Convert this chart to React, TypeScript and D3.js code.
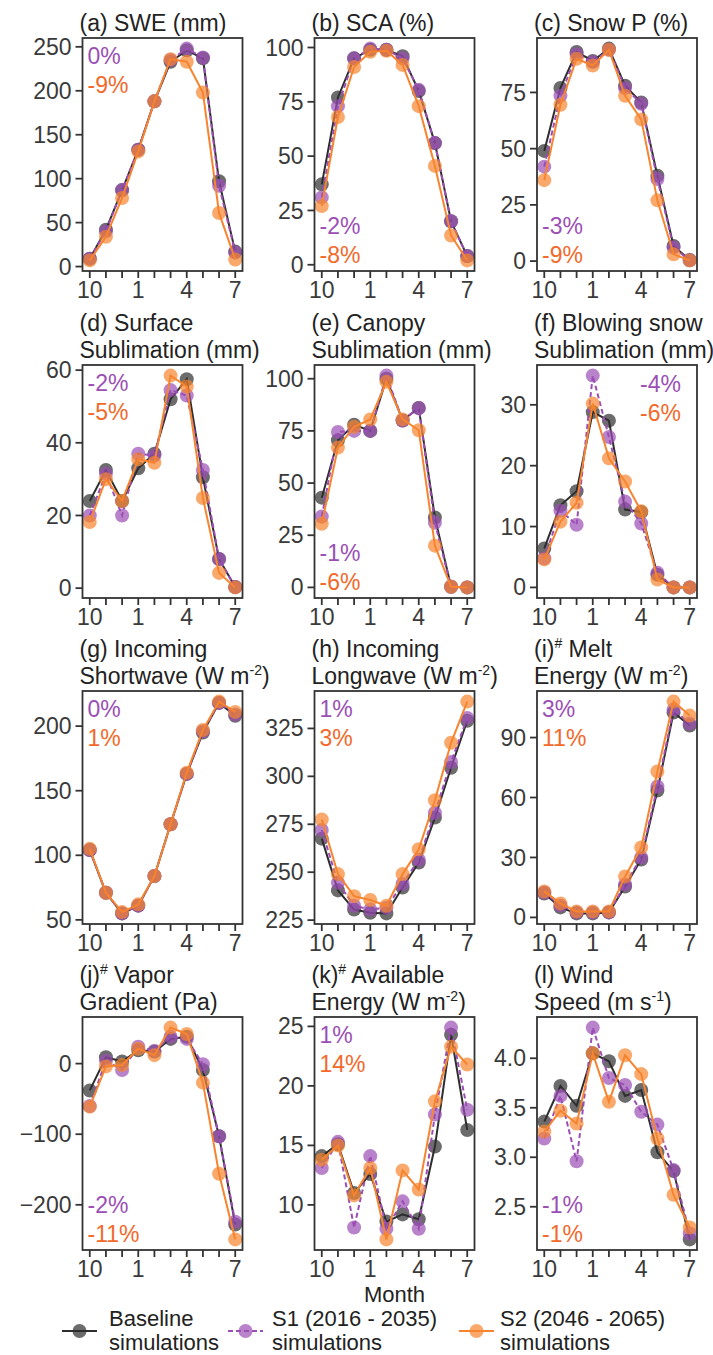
import React from 'react';
import * as d3 from 'd3';

// months Oct..Jul
const months = [10, 11, 12, 1, 2, 3, 4, 5, 6, 7];
const monthLabels = ['10', '', '', '1', '', '', '4', '', '', '7'];

// (a) SWE (mm)
const sweBase = [9, 42, 87, 133, 188, 233, 246, 237, 97, 17];
const sweS1 = [9, 40, 87, 133, 188, 235, 248, 238, 92, 16];
const sweS2 = [7, 34, 78, 131, 188, 236, 233, 198, 61, 8];
// (b) SCA (%)
const scaBase = [37, 77, 95, 99, 99, 96, 80, 56, 20, 4];
const scaS1 = [31, 73, 95, 99.5, 99, 95, 80.5, 56, 20, 4];
const scaS2 = [27, 68, 91, 98, 98.5, 92, 73, 45.5, 13.5, 2];
// (c) Snow P (%)
const snowBase = [49, 77, 93, 89, 94.5, 78, 70.5, 38, 6.7, 0.5];
const snowS1 = [42, 73.5, 92, 88.5, 94, 77, 70, 36.5, 6, 0.4];
const snowS2 = [36, 69.5, 90, 87, 94, 73.5, 63, 27, 3, 0.3];
// (d) Surface sublimation (mm)
const surfBase = [24, 32.5, 24, 33, 37, 52, 57.5, 30.5, 8, 0.3];
const surfS1 = [20, 31.5, 20, 37, 36.5, 54.5, 53, 32.5, 8, 0.3];
const surfS2 = [18.2, 30, 24, 35.5, 34.5, 58.5, 55.5, 24.8, 4.2, 0.2];
// (e) Canopy sublimation (mm)
const canBase = [43, 70.5, 78, 75, 100, 80, 86, 33.5, 0.3, 0];
const canS1 = [34, 74.5, 75, 75, 101.5, 80, 86, 31, 0.3, 0];
const canS2 = [30.5, 67, 77, 80.5, 98.5, 80.5, 75.3, 20, 0.3, 0];
// (f) Blowing snow sublimation (mm)
const blowBase = [6.4, 13.5, 15.8, 28.8, 27.4, 12.8, 12.4, 2.1, 0, 0];
const blowS1 = [4.8, 12.6, 10.3, 34.8, 24.7, 14.1, 10.5, 2.4, 0, 0];
const blowS2 = [4.6, 10.8, 13.9, 30.2, 21.2, 17.4, 12.5, 1.3, 0, 0];
// (g) Incoming shortwave (W m-2)
const swBase = [104, 71, 55, 61, 84, 124, 163, 195, 218, 208];
const swS1 = [104, 71, 55, 61, 84, 124, 163, 196, 218, 209];
const swS2 = [105, 71, 56, 62, 84, 124, 164, 197, 219, 211];
// (h) Incoming longwave (W m-2)
const lwBase = [267.5, 240.5, 230.5, 228.8, 228.5, 242, 255, 278.5, 304.5, 329];
const lwS1 = [272, 244.5, 232.5, 230.5, 231.5, 244, 256.5, 281, 307.5, 330.5];
const lwS2 = [277.5, 249, 237.5, 235.5, 232.5, 249, 262, 287.5, 317.5, 339];
// (i) Melt energy (W m-2)
const meltBase = [12, 5, 2, 2, 2.5, 15.5, 29, 63.5, 102.5, 96];
const meltS1 = [12.5, 6, 2.5, 2.5, 2.5, 16.5, 30, 65.5, 104, 97];
const meltS2 = [13, 7, 3, 3, 3, 20.5, 35, 73, 108, 101];
// (j) Vapor gradient (Pa)
const vapBase = [-38, 9, 3, 19, 17, 35, 38, -9, -103, -228];
const vapS1 = [-60, 4, -9, 24, 18, 38, 35, -1, -103, -224];
const vapS2 = [-61, -4, -2, 21, 12, 51, 42, -27, -156, -249];
// (k) Available energy (W m-2)
const avBase = [14.1, 15.1, 11.0, 12.6, 8.6, 9.2, 8.8, 14.9, 24.3, 16.3];
const avS1 = [13.1, 15.3, 8.1, 14.1, 8.0, 10.3, 8.0, 17.6, 24.9, 18.0];
const avS2 = [13.8, 15.0, 10.8, 13.1, 7.1, 12.9, 11.3, 18.7, 23.3, 21.8];
// (l) Wind speed (m s-1)
const windBase = [3.36, 3.72, 3.52, 4.05, 3.97, 3.62, 3.68, 3.05, 2.86, 2.17];
const windS1 = [3.19, 3.62, 2.96, 4.31, 3.8, 3.73, 3.46, 3.33, 2.87, 2.23];
const windS2 = [3.26, 3.47, 3.34, 4.05, 3.56, 4.03, 3.84, 3.19, 2.62, 2.29];

const series = [
  { name: ['Baseline', 'simulations'], color: '#2e2e2e', dash: null },
  { name: ['S1 (2016 - 2035)', 'simulations'], color: '#9b4fb5', dash: '5,3' },
  { name: ['S2 (2046 - 2065)', 'simulations'], color: '#f7842e', dash: null },
];
const pctColors = ['#9b4fb5', '#f2692a'];

// title segments: [text, isSuperscript]
type Seg = [string, boolean?];
const panels = [
  { title: [[['(a) SWE (mm)']]], data: [sweBase, sweS1, sweS2], ticks: [0, 50, 100, 150, 200, 250], pct: ['0%', '-9%'], corner: 'tl' },
  { title: [[['(b) SCA (%)']]], data: [scaBase, scaS1, scaS2], ticks: [0, 25, 50, 75, 100], pct: ['-2%', '-8%'], corner: 'bl' },
  { title: [[['(c) Snow P (%)']]], data: [snowBase, snowS1, snowS2], ticks: [0, 25, 50, 75], pct: ['-3%', '-9%'], corner: 'bl' },
  { title: [[['(d) Surface']], [['Sublimation (mm)']]], data: [surfBase, surfS1, surfS2], ticks: [0, 20, 40, 60], pct: ['-2%', '-5%'], corner: 'tl' },
  { title: [[['(e) Canopy']], [['Sublimation (mm)']]], data: [canBase, canS1, canS2], ticks: [0, 25, 50, 75, 100], pct: ['-1%', '-6%'], corner: 'bl' },
  { title: [[['(f) Blowing snow']], [['Sublimation (mm)']]], data: [blowBase, blowS1, blowS2], ticks: [0, 10, 20, 30], pct: ['-4%', '-6%'], corner: 'tr' },
  { title: [[['(g) Incoming']], [['Shortwave (W m'], ['-2', true], [')']]], data: [swBase, swS1, swS2], ticks: [50, 100, 150, 200], pct: ['0%', '1%'], corner: 'tl' },
  { title: [[['(h) Incoming']], [['Longwave (W m'], ['-2', true], [')']]], data: [lwBase, lwS1, lwS2], ticks: [225, 250, 275, 300, 325], pct: ['1%', '3%'], corner: 'tl' },
  { title: [[['(i)'], ['#', true], [' Melt']], [['Energy (W m'], ['-2', true], [')']]], data: [meltBase, meltS1, meltS2], ticks: [0, 30, 60, 90], pct: ['3%', '11%'], corner: 'tl' },
  { title: [[['(j)'], ['#', true], [' Vapor']], [['Gradient (Pa)']]], data: [vapBase, vapS1, vapS2], ticks: [-200, -100, 0], pct: ['-2%', '-11%'], corner: 'bl' },
  { title: [[['(k)'], ['#', true], [' Available']], [['Energy (W m'], ['-2', true], [')']]], data: [avBase, avS1, avS2], ticks: [10, 15, 20, 25], pct: ['1%', '14%'], corner: 'tl' },
  { title: [[['(l) Wind']], [['Speed (m s'], ['-1', true], [')']]], data: [windBase, windS1, windS2], ticks: [2.5, 3.0, 3.5, 4.0], pct: ['-1%', '-1%'], corner: 'bl' },
] as { title: Seg[][]; data: number[][]; ticks: number[]; pct: string[]; corner: string }[];

const colX = [82.5, 314.5, 537];
const rowY = [38, 365, 691, 1017];
const PW = 160;
const PH = 233;
const FONT = '"Liberation Sans", Arial, sans-serif';
const FS = 23;
const AX = '#333333';

const fmtTick = (v: number, ticks: number[]) => {
  const s = ticks.some((t) => !Number.isInteger(t)) ? d3.format('.1f')(v) : String(v);
  return s.replace('-', '\u2212');
};

const TitleLine = ({ segs, x, y }: { segs: Seg[]; x: number; y: number }) => (
  <text x={x} y={y} fontSize={FS} fill="#222">
    {segs.map((s, i) =>
      s[1] ? (
        <tspan key={i} dy={-9} fontSize={14}>{s[0]}</tspan>
      ) : (
        <tspan key={i} dy={i > 0 && segs[i - 1][1] ? 9 : 0}>{s[0]}</tspan>
      )
    )}
  </text>
);

const Panel = ({ p, idx }: { p: (typeof panels)[number]; idx: number }) => {
  const left = colX[idx % 3];
  const top = rowY[Math.floor(idx / 3)];
  const all = p.data.flat();
  const [mn, mx] = d3.extent(all) as [number, number];
  const pad = (mx - mn) * 0.05;
  const x = d3.scaleLinear().domain([-0.45, 9.45]).range([0, PW]);
  const y = d3.scaleLinear().domain([mn - pad, mx + pad]).range([PH, 0]);
  const line = d3.line<number>().x((_, i) => x(i)).y((d) => y(d));

  let pctPos: { x: number; y: number[] };
  if (p.corner === 'tl') pctPos = { x: 5, y: [26, 55] };
  else if (p.corner === 'bl') pctPos = { x: 5, y: [PH - 37, PH - 8] };
  else pctPos = { x: 103, y: [27, 56] };

  return (
    <g>
      {p.title.map((segs, i) => (
        <TitleLine key={i} segs={segs} x={left - 3} y={top - 7 - (p.title.length - 1 - i) * 27} />
      ))}
      <g transform={`translate(${left},${top})`}>
        {series.map((s, si) => (
          <g key={si}>
            <path d={line(p.data[si]) || ''} fill="none" stroke={s.color} strokeWidth={2} strokeDasharray={s.dash || undefined} />
            {p.data[si].map((v, i) => (
              <circle key={i} cx={x(i)} cy={y(v)} r={7} fill={s.color} fillOpacity={0.7} />
            ))}
          </g>
        ))}
        {p.pct.map((t, i) => (
          <text key={i} x={pctPos.x} y={pctPos.y[i]} fontSize={FS} fill={pctColors[i]}>
            {t}
          </text>
        ))}
        <rect x={0} y={0} width={PW} height={PH} fill="none" stroke={AX} strokeWidth={1.8} />
        {p.ticks.map((t) => (
          <g key={t} transform={`translate(0,${y(t)})`}>
            <line x1={-7} x2={0} stroke={AX} strokeWidth={1.8} />
            <text x={-11} dy="0.35em" fontSize={FS} fill="#3a3a3a" textAnchor="end">
              {fmtTick(t, p.ticks)}
            </text>
          </g>
        ))}
        {months.map((m, i) => (
          <g key={m} transform={`translate(${x(i)},${PH})`}>
            <line y1={0} y2={7} stroke={AX} strokeWidth={1.8} />
            <text y={27} fontSize={FS} fill="#3a3a3a" textAnchor="middle">
              {monthLabels[i]}
            </text>
          </g>
        ))}
      </g>
    </g>
  );
};

const legendX = [62, 228, 459];
const legendTextX = [109, 272, 500];

export default function App() {
  return (
    <svg
      width={713}
      height={1355}
      style={{ position: 'absolute', left: 0, top: 0, background: '#fff' }}
      fontFamily={FONT}
    >
      {panels.map((p, i) => (
        <Panel key={i} p={p} idx={i} />
      ))}
      <text x={colX[1] + PW / 2} y={1302} fontSize={22} fill="#222" textAnchor="middle">
        Month
      </text>
      {series.map((s, i) => (
        <g key={i}>
          <line x1={legendX[i]} x2={legendX[i] + 35} y1={1331} y2={1331} stroke={s.color} strokeWidth={2} strokeDasharray={s.dash || undefined} />
          <circle cx={legendX[i] + 17.5} cy={1331} r={7} fill={s.color} fillOpacity={0.7} />
          <text x={legendTextX[i]} y={1326} fontSize={22} fill="#222">
            {s.name[0]}
            <tspan x={legendTextX[i]} dy={24}>{s.name[1]}</tspan>
          </text>
        </g>
      ))}
    </svg>
  );
}
